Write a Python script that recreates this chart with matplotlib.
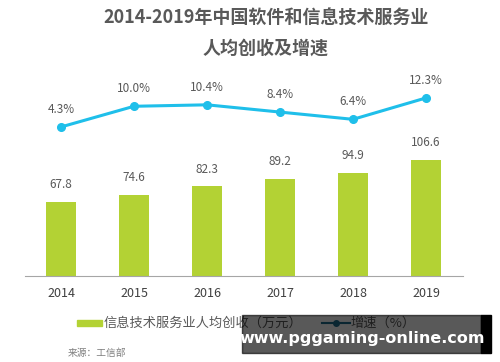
import matplotlib.pyplot as plt
from matplotlib.patches import Rectangle
from matplotlib.lines import Line2D

plt.rcParams['font.family'] = ['Noto Sans CJK SC', 'DejaVu Sans']

years = ['2014', '2015', '2016', '2017', '2018', '2019']
revenue = [67.8, 74.6, 82.3, 89.2, 94.9, 106.6]
growth = [4.3, 10.0, 10.4, 8.4, 6.4, 12.3]

bar_col = '#b3d234'
line_col = '#1fbfea'
txt_col = '#595959'

fig = plt.figure(figsize=(5, 3.62), dpi=100)
ax = fig.add_axes([24.5 / 500, 86 / 362, 438 / 500, 217.6 / 362])
x = range(len(years))
ax.bar(x, revenue, width=0.42, color=bar_col)
for i, v in enumerate(revenue):
    ax.text(i, v + 10, f'{v:.1f}', ha='center', va='bottom', fontsize=8.5, color=txt_col)
ax.set_xlim(-0.5, 5.5)
ax.set_ylim(0, 200)
ax.set_yticks([])
ax.set_xticks(list(x))
ax.set_xticklabels(years, fontsize=9, color='#404040')
ax.tick_params(axis='x', length=0, pad=8)
for s in ['top', 'right', 'left']:
    ax.spines[s].set_visible(False)
ax.spines['bottom'].set_color('#a6a6a6')

ax2 = ax.twinx()
ax2.plot(x, growth, color=line_col, lw=2.2, marker='o', ms=5.5)
for i, v in enumerate(growth):
    ax2.text(i, v + 3.0, f'{v:.1f}%', ha='center', va='bottom', fontsize=8.5, color=txt_col)
ax2.set_ylim(-36.8, 23.2)
ax2.axis('off')

fig.text(0.532, 1 - 17 / 362, '2014-2019年中国软件和信息技术服务业', ha='center', va='center',
         fontsize=13, fontweight='bold', color=txt_col)
fig.text(0.532, 1 - 48 / 362, '人均创收及增速', ha='center', va='center',
         fontsize=13, fontweight='bold', color=txt_col)

# legend
fig.patches.append(Rectangle((77 / 500, 1 - 326 / 362), 25 / 500, 6 / 362,
                             transform=fig.transFigure, color=bar_col))
fig.text(104 / 500, 1 - 323 / 362, '信息技术服务业人均创收（万元）', ha='left', va='center',
         fontsize=9.5, color=txt_col)
fig.lines.append(Line2D([322 / 500, 350 / 500], [1 - 323 / 362, 1 - 323 / 362],
                        transform=fig.transFigure, color='#1f6e8c', lw=1.5))
fig.lines.append(Line2D([336 / 500], [1 - 323 / 362], transform=fig.transFigure,
                        color='#1f6e8c', marker='o', ms=4))
fig.text(350 / 500, 1 - 323 / 362, '增速（%）', ha='left', va='center', fontsize=9.5, color=txt_col)

fig.text(68 / 500, 1 - 353 / 362, '来源：工信部', ha='left', va='center', fontsize=7, color='#7f7f7f')

# watermark overlay (semi-transparent)
fig.patches.append(Rectangle((242 / 500, 1 - 353 / 362), 239 / 500, 38 / 362,
                             transform=fig.transFigure, color='black', alpha=0.65, zorder=5))
fig.patches.append(Rectangle((481 / 500, 1 - 353 / 362), 10 / 500, 38 / 362,
                             transform=fig.transFigure, color='#000000', zorder=5))
fig.text(362 / 500, 1 - 339 / 362, 'www.pggaming-online.com', ha='center', va='center',
         fontsize=11.5, fontweight='bold', color='white', family='DejaVu Sans', zorder=6)

plt.savefig('out.png', dpi=100)
